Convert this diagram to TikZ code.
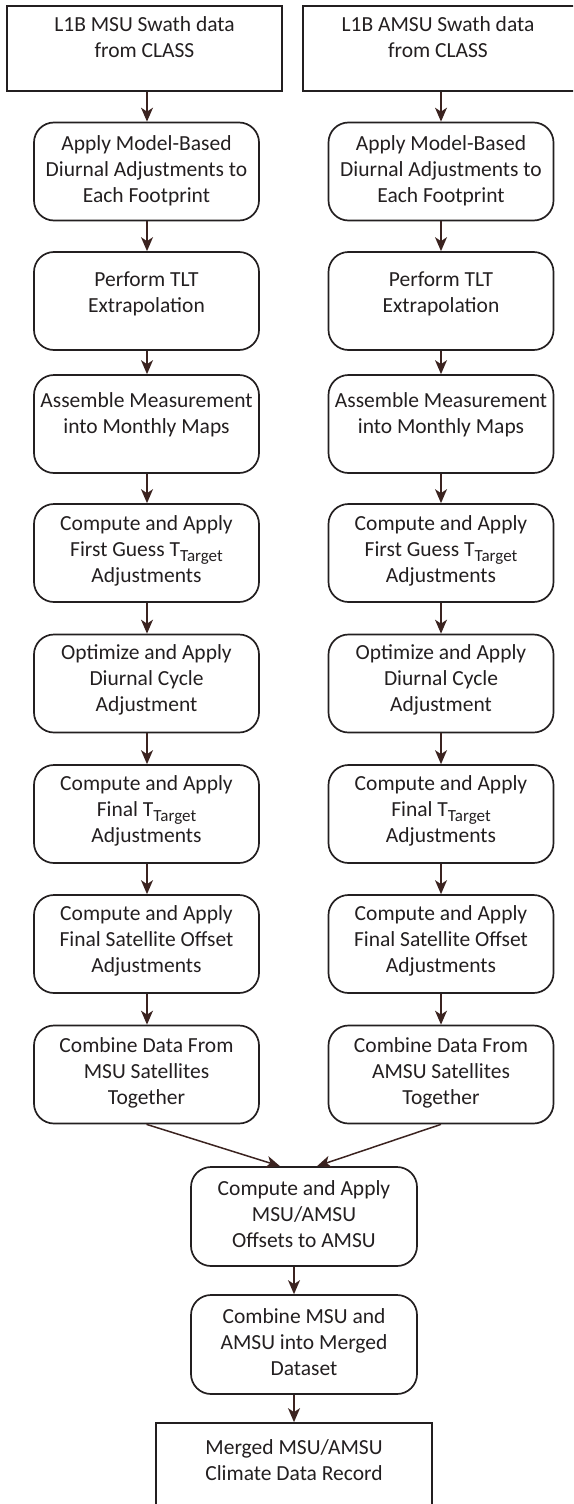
\documentclass[tikz,border=0pt]{standalone}
\usepackage{fontspec}
\setmainfont{Carlito}
\usetikzlibrary{arrows.meta}
\definecolor{edge}{HTML}{231F20}
\definecolor{flowc}{HTML}{3B2320}
% lowered, smaller text for the T_Target subscript
\newcommand\lowtext[1]{\raisebox{-5pt}{\fontsize{17}{17}\selectfont #1}}

\begin{document}
\begin{tikzpicture}[x=1pt,y=-1pt,
  every node/.style={inner sep=0pt},
  frame/.style={draw=edge, line width=1.7pt, minimum width=275pt, minimum height=85pt},
  stepbox/.style={draw=edge, line width=1.7pt, rounded corners=20pt,
                  minimum width=225pt, minimum height=98pt},
  words/.style={align=center, text=edge, font=\fontsize{21.5}{26}\selectfont},
  flow/.style={draw=flowc, line width=1.5pt,
               -{Stealth[length=14pt,width=12pt,inset=4pt]}},
]
\useasboundingbox (0,0) rectangle (573,1504);
\clip (0,0) rectangle (573,1504);

% column axes for the vertical connectors
\coordinate (colL) at (147,0);
\coordinate (colR) at (441,0);
\coordinate (colM) at (294,0);

% input data
\node[frame] (L0) at (144.5,48.5) {};
\node[words] (L0t) at (144.5,37.5) {L1B MSU Swath data\\from CLASS};
\node[frame] (R0) at (440.5,48.5) {};
\node[words] (R0t) at (438,37.5) {L1B AMSU Swath data\\from CLASS};

% MSU processing chain
\node[stepbox] (L1) at (146.5,171.5) {};
\node[words] (L1t) at (146.5,170.5) {Apply Model-Based\\Diurnal Adjustments to\\Each Footprint};
\node[stepbox] (L2) at (146.5,301) {};
\node[words] (L2t) at (146.5,293.5) {Perform TLT\\Extrapolation};
\node[stepbox] (L3) at (146.5,424) {};
\node[words] (L3t) at (146.5,415) {Assemble Measurement\\into Monthly Maps};
\node[stepbox] (L4) at (146.5,553) {};
\node[words] (L4t) at (146.5,550.5) {Compute and Apply\\First Guess T\lowtext{Target}\\Adjustments};
\node[stepbox] (L5) at (146.5,683.5) {};
\node[words] (L5t) at (146.5,680) {Optimize and Apply\\Diurnal Cycle\\Adjustment};
\node[stepbox] (L6) at (146.5,814) {};
\node[words] (L6t) at (146.5,811) {Compute and Apply\\Final T\lowtext{Target}\\Adjustments};
\node[stepbox] (L7) at (146.5,944) {};
\node[words] (L7t) at (146.5,941) {Compute and Apply\\Final Satellite Offset\\Adjustments};
\node[stepbox] (L8) at (146.5,1074.5) {};
\node[words] (L8t) at (146.5,1072.5) {Combine Data From\\MSU Satellites\\Together};

% AMSU processing chain
\node[stepbox] (R1) at (441,171.5) {};
\node[words] (R1t) at (441,170.5) {Apply Model-Based\\Diurnal Adjustments to\\Each Footprint};
\node[stepbox] (R2) at (441,301) {};
\node[words] (R2t) at (441,293.5) {Perform TLT\\Extrapolation};
\node[stepbox] (R3) at (441,424) {};
\node[words] (R3t) at (441,415) {Assemble Measurement\\into Monthly Maps};
\node[stepbox] (R4) at (441,553) {};
\node[words] (R4t) at (441,550.5) {Compute and Apply\\First Guess T\lowtext{Target}\\Adjustments};
\node[stepbox] (R5) at (441,683.5) {};
\node[words] (R5t) at (441,680) {Optimize and Apply\\Diurnal Cycle\\Adjustment};
\node[stepbox] (R6) at (441,814) {};
\node[words] (R6t) at (441,811) {Compute and Apply\\Final T\lowtext{Target}\\Adjustments};
\node[stepbox] (R7) at (441,944) {};
\node[words] (R7t) at (441,941) {Compute and Apply\\Final Satellite Offset\\Adjustments};
\node[stepbox] (R8) at (441,1074.5) {};
\node[words] (R8t) at (441,1072.5) {Combine Data From\\AMSU Satellites\\Together};

% merging stage
\node[stepbox, minimum width=226pt, minimum height=99pt] (M1) at (304,1216.5) {};
\node[words] (M1t) at (304,1214) {Compute and Apply\\MSU/AMSU\\Offsets to AMSU};
\node[stepbox, minimum width=226pt, minimum height=99pt] (M2) at (304,1344.5) {};
\node[words] (M2t) at (304,1342.5) {Combine MSU and\\AMSU into Merged\\Dataset};
\node[frame, minimum width=276pt] (F) at (294,1465.5) {};
\node[words] (Ft) at (294,1460.5) {Merged MSU/AMSU\\Climate Data Record};

% connectors
\foreach \a/\b in {0/1,1/2,2/3,3/4,4/5,5/6,6/7,7/8} {
  \draw[flow] (L\a.south -| colL) -- (L\b.north -| colL);
  \draw[flow] (R\a.south -| colR) -- (R\b.north -| colR);
}
\draw[flow] (L8.south) -- ([xshift=-24pt]M1.north);
\draw[flow] (R8.south) -- ([xshift=13pt]M1.north);
\draw[flow] (M1.south -| colM) -- (M2.north -| colM);
\draw[flow] (M2.south -| colM) -- (F.north -| colM);
\end{tikzpicture}
\end{document}
